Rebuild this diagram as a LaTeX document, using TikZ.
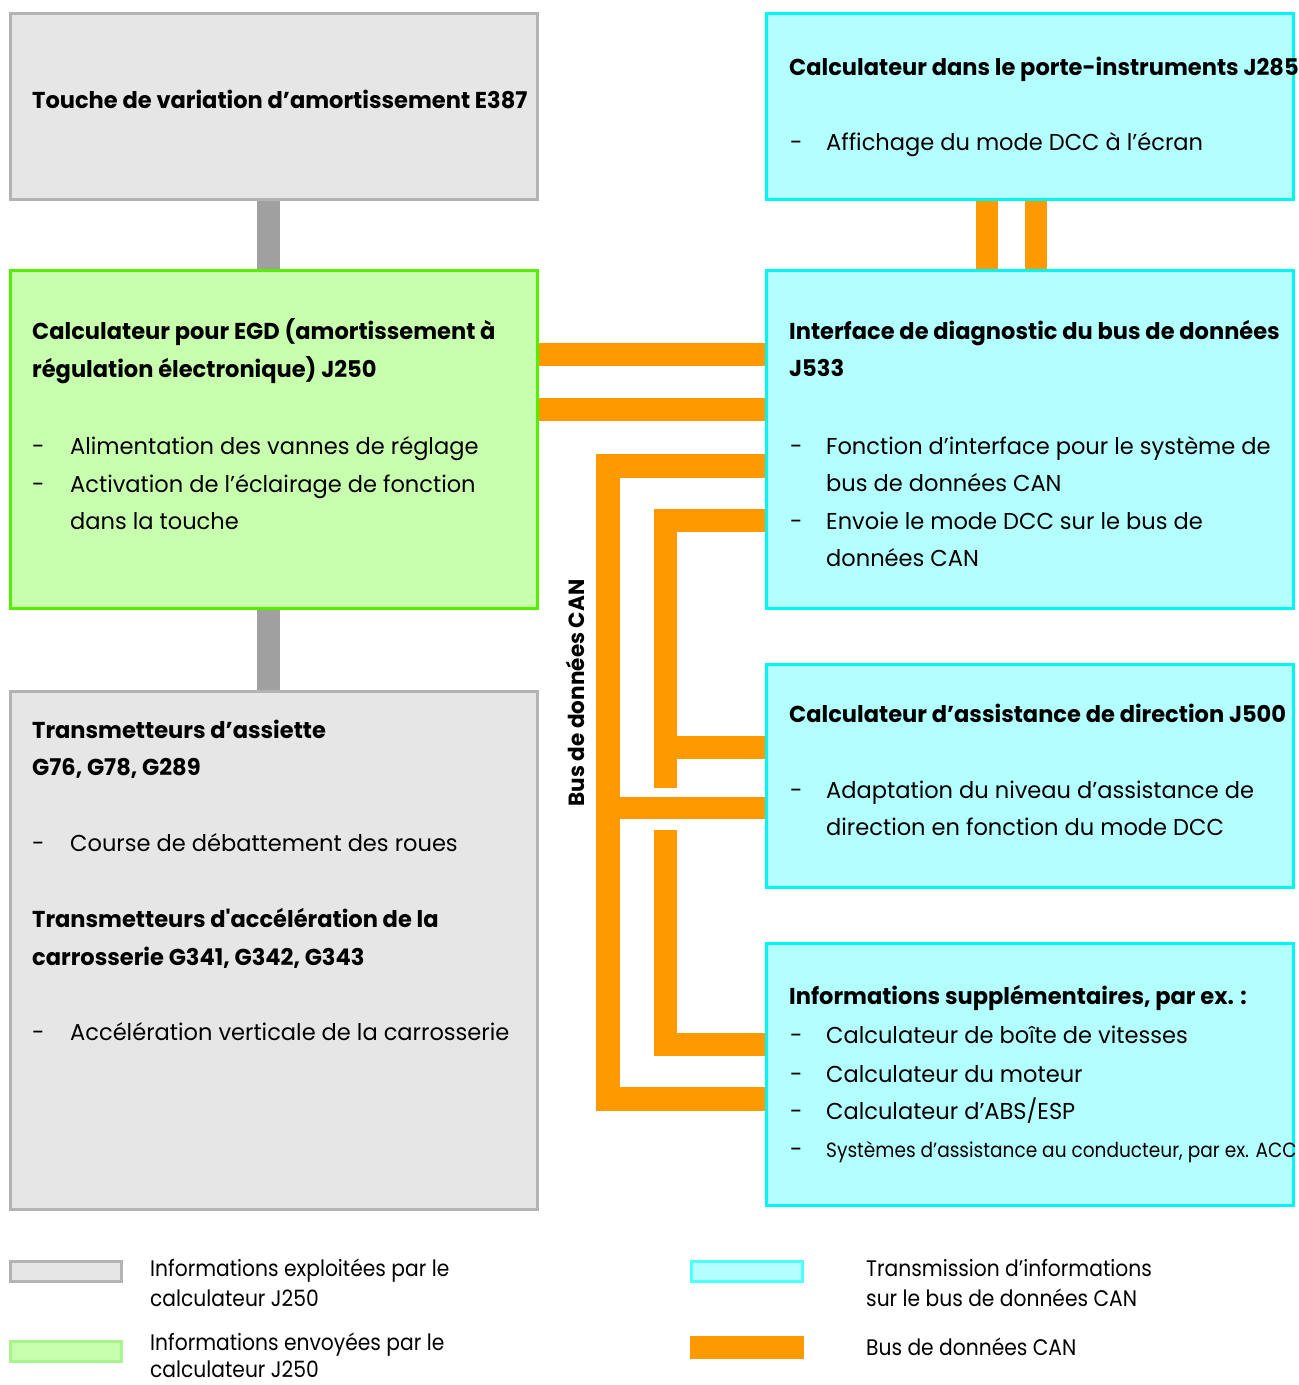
\documentclass[tikz,border=0pt]{standalone}
\usepackage{fontspec}
\newfontfamily\futura{Poppins}[FakeStretch=0.98]
\newfontfamily\futuracond{Poppins}[FakeStretch=0.9]

\definecolor{greyfill}{HTML}{E6E6E6}
\definecolor{greyline}{HTML}{B3B3B3}
\definecolor{greylink}{HTML}{A0A0A0}
\definecolor{greenfill}{HTML}{C8FFAE}
\definecolor{greenline}{HTML}{55EE00}
\definecolor{greenkey}{HTML}{A8F590}
\definecolor{cyanfill}{HTML}{B3FFFF}
\definecolor{cyanline}{HTML}{00F5F5}
\definecolor{cyankey}{HTML}{4DFFFF}
\definecolor{busorange}{HTML}{FF9900}

\tikzset{
  box/.style={draw, line width=3pt, inner sep=0pt, minimum width=527pt},
  greybox/.style={box, draw=greyline, fill=greyfill},
  greenbox/.style={box, draw=greenline, fill=greenfill},
  cyanbox/.style={box, draw=cyanline, fill=cyanfill},
  title/.style={anchor=base west, inner sep=0pt, font=\futura\bfseries\fontsize{23}{27}\selectfont},
  txt/.style={anchor=base west, inner sep=0pt, font=\futura\fontsize{23}{27}\selectfont},
  small/.style={anchor=base west, inner sep=0pt, font=\futuracond\fontsize{20.6}{24}\selectfont},
  legend/.style={anchor=base west, inner sep=0pt, font=\futuracond\fontsize{22.5}{26}\selectfont},
  link/.style={draw=greylink, line width=23pt},
  bus/.style={draw=busorange, line width=23pt, line join=miter},
  keybox/.style={line width=3pt, minimum width=111pt, minimum height=20pt, inner sep=0pt}
}

\begin{document}
\begin{tikzpicture}[x=1pt, y=-1pt]

        \useasboundingbox (0,0) rectangle (1299,1385);

        % Touche E387
        \node [greybox, minimum height=186pt] (e387) at (274,106.5) {};
        \node [title] (e387a) at (32,108) {Touche de variation d’amortissement E387};

        % Calculateur J250
        \node [greenbox, minimum height=338pt] (j250) at (274,439.5) {};
        \node [title] (j250a) at (32,339) {Calculateur pour EGD (amortissement à};
        \node [title] (j250b) at (32,377) {régulation électronique) J250};
        \node [txt] (j250c) at (32,454) {-};
        \node [txt] (j250d) at (70,454) {Alimentation des vannes de réglage};
        \node [txt] (j250e) at (32,492) {-};
        \node [txt] (j250f) at (70,492) {Activation de l’éclairage de fonction};
        \node [txt] (j250g) at (70,529) {dans la touche};

        % Transmetteurs
        \node [greybox, minimum height=518pt] (sens) at (274,950.5) {};
        \node [title] (sensa) at (32,738) {Transmetteurs d’assiette};
        \node [title] (sensb) at (32,775) {G76, G78, G289};
        \node [txt] (sensc) at (32,851) {-};
        \node [txt] (sensd) at (70,851) {Course de débattement des roues};
        \node [title] (sense) at (32,927) {Transmetteurs d'accélération de la};
        \node [title] (sensf) at (32,965) {carrosserie G341, G342, G343};
        \node [txt] (sensg) at (32,1040) {-};
        \node [txt] (sensh) at (70,1040) {Accélération verticale de la carrosserie};

        % Porte-instruments J285
        \node [cyanbox, minimum height=186pt] (j285) at (1030,106.5) {};
        \node [title] (j285a) at (789,75) {Calculateur dans le porte-instruments J285};
        \node [txt] (j285b) at (790,150) {-};
        \node [txt] (j285c) at (826,150) {Affichage du mode DCC à l’écran};

        % Interface J533
        \node [cyanbox, minimum height=338pt] (j533) at (1030,439.5) {};
        \node [title] (j533a) at (789,339) {Interface de diagnostic du bus de données};
        \node [title] (j533b) at (789,376) {J533};
        \node [txt] (j533c) at (790,454) {-};
        \node [txt] (j533d) at (826,454) {Fonction d’interface pour le système de};
        \node [txt] (j533e) at (826,491) {bus de données CAN};
        \node [txt] (j533f) at (790,529) {-};
        \node [txt] (j533g) at (826,529) {Envoie le mode DCC sur le bus de};
        \node [txt] (j533h) at (826,566) {données CAN};

        % Direction J500
        \node [cyanbox, minimum height=223pt] (j500) at (1030,776) {};
        \node [title] (j500a) at (789,722) {Calculateur d’assistance de direction J500};
        \node [txt] (j500b) at (790,798) {-};
        \node [txt] (j500c) at (826,798) {Adaptation du niveau d’assistance de};
        \node [txt] (j500d) at (826,835) {direction en fonction du mode DCC};

        % Informations supplementaires
        \node [cyanbox, minimum height=262pt] (extra) at (1030,1074.5) {};
        \node [title] (extraa) at (789,1004) {Informations supplémentaires, par ex. :};
        \node [txt] (extrab) at (790,1043) {-};
        \node [txt] (extrac) at (826,1043) {Calculateur de boîte de vitesses};
        \node [txt] (extrad) at (790,1082) {-};
        \node [txt] (extrae) at (826,1082) {Calculateur du moteur};
        \node [txt] (extraf) at (790,1119) {-};
        \node [txt] (extrag) at (826,1119) {Calculateur d’ABS/ESP};
        \node [txt] (extrah) at (790,1157) {-};
        \node [small] (extrai) at (826,1157) {Systèmes d’assistance au conducteur, par ex. ACC};

        % E387 - J250 - Transmetteurs
        \draw [link] ([xshift=-5.5pt]e387.south) -- ([xshift=-5.5pt]j250.north);
        \draw [link] ([xshift=-5.5pt]j250.south) -- ([xshift=-5.5pt]sens.north);

        % J285 - J533
        \draw [bus, line width=22pt] (j285.south -| 987,0) -- (j533.north -| 987,0);
        \draw [bus, line width=22pt] (j285.south -| 1036,0) -- (j533.north -| 1036,0);

        % J250 - J533
        \draw [bus] (j250.east |- 0,354.5) -- (j533.west |- 0,354.5);
        \draw [bus] (j250.east |- 0,409) -- (j533.west |- 0,409);

        % Bus CAN
        \draw [bus, line width=24pt] (j533.west |- 0,466) -| (608,1099) -- (extra.west |- 0,1099);
        \draw [bus, line width=22pt] (608,808) -- (j500.west |- 0,808);
        \draw [bus] (j533.west |- 0,520) -| (665.5,788);
        \draw [bus] (665.5,747) -- (j500.west |- 0,747);
        \draw [bus] (665.5,830) |- (extra.west |- 0,1044);
        \node [rotate=90, inner sep=0pt, font=\futura\bfseries\fontsize{22}{26}\selectfont] (canlabel) at (575,693) {Bus de données CAN};

        % Legende
        \node [keybox, draw=greyline, fill=greyfill] (key1) at (66,1271.5) {};
        \node [legend] (key1a) at (150,1276) {Informations exploitées par le};
        \node [legend] (key1b) at (150,1306) {calculateur J250};
        \node [keybox, draw=greenkey, fill=greenfill] (key2) at (66,1351) {};
        \node [legend] (key2a) at (150,1350) {Informations envoyées par le};
        \node [legend] (key2b) at (150,1377) {calculateur J250};
        \node [keybox, draw=cyankey, fill=cyanfill] (key3) at (747,1271.5) {};
        \node [legend] (key3a) at (866,1276) {Transmission d’informations};
        \node [legend] (key3b) at (866,1306) {sur le bus de données CAN};
        \node [keybox, fill=busorange, line width=0pt, minimum width=114pt, minimum height=23pt] (key4) at (747,1347.5) {};
        \node [legend] (key4a) at (866,1355) {Bus de données CAN};

    \end{tikzpicture}
\end{document}
